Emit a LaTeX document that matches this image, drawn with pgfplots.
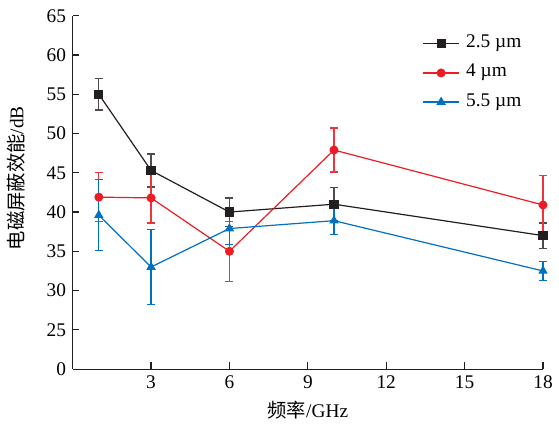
\documentclass[border=0pt]{standalone}
\usepackage{pgfplots}
\pgfplotsset{compat=1.18}
\usepackage{fontspec}
\setmainfont{Liberation Serif}
\newfontfamily\cjk{Noto Sans CJK SC}
\usetikzlibrary{calc}
\definecolor{cblack}{RGB}{35,31,32}
\definecolor{cred}{RGB}{237,28,36}
\definecolor{cblue}{RGB}{0,112,192}
\begin{document}
\fontsize{14.5}{17}\selectfont
\begin{tikzpicture}
\begin{axis}[name=ax, scale only axis, width=352.7pt, height=265pt,
  xmin=0, xmax=18, ymin=20, ymax=65,
  axis lines*=left,
  axis line style={line width=0.9pt, cblack},
  xtick={3,6,...,18},
  ytick={20,25,...,65},
  yticklabels={0,25,30,35,40,45,50,55,60,65},
  tick align=inside, major tick length=5pt,
  tick style={line width=0.9pt, cblack},
  /pgf/number format/assume math mode=true,
  ticklabel style={font=\fontsize{14.5}{17}\selectfont},
  xlabel={{\cjk 频率}/GHz},
  ylabel={{\cjk 电磁屏蔽效能}/dB},
  xlabel style={at={(axis description cs:0.5,-0.116)}, anchor=center, font=\fontsize{14.5}{17}\selectfont},
  ylabel style={at={(axis description cs:-0.1206,0.54)}, anchor=center, font=\fontsize{14.5}{17}\selectfont},
  clip=false,
  legend cell align=left,
  legend style={draw=none, fill=none, at={(rel axis cs:0.735,0.955)}, anchor=north west,
    font=\fontsize{14.5}{17}\selectfont, row sep=7.8pt,
    nodes={inner sep=1pt, text height=9pt, text depth=3pt},
    /tikz/every odd column/.append style={column sep=4pt}},
  legend image code/.code={\draw[mark repeat=2, mark phase=2, #1] plot coordinates {(0pt,0pt) (13.4pt,0pt) (26.8pt,0pt)};},
]
\addplot[cblack, line width=0.9pt, mark=square*, mark size=3pt, mark options={solid, fill=cblack},
  error bars/.cd, y dir=both, y explicit,
  error bar style={line width=0.9pt, cblack!80},
  error mark options={rotate=90, mark size=3pt, line width=0.9pt, cblack!80}]
  coordinates {(1,55) +- (0,2.0) (3,45.3) +- (0,2.1) (6,40.0) +- (0,1.8) (10,41.0) +- (0,2.1) (18,37.0) +- (0,1.6)};
\addlegendentry{2.5 µm}
\addplot[cred, line width=0.9pt, mark=*, mark size=2.9pt, mark options={solid, fill=cred},
  error bars/.cd, y dir=both, y explicit,
  error bar style={line width=0.9pt, cred!90},
  error mark options={rotate=90, mark size=3pt, line width=0.9pt, cred!90}]
  coordinates {(1,41.9) +- (0,3.1) (3,41.8) +- (0,3.2) (6,35.0) +- (0,3.8) (10,47.9) +- (0,2.8) (18,40.9) +- (0,3.8)};
\addlegendentry{4 µm}
\addplot[cblue, line width=0.9pt, mark=triangle*, mark size=3.2pt, mark options={solid, fill=cblue},
  error bars/.cd, y dir=both, y explicit,
  error bar style={line width=0.9pt, cblue},
  error mark options={rotate=90, mark size=3pt, line width=0.9pt, cblue}]
  coordinates {(1,39.6) +- (0,4.5) (3,33.0) +- (0,4.8) (6,37.9) +- (0,2.0) (10,38.9) +- (0,1.8) (18,32.5) +- (0,1.2)};
\addlegendentry{5.5 µm}
\end{axis}
\pgfresetboundingbox
\path[use as bounding box] ($(ax.south west)+(-54.5pt,-42.75pt)$) rectangle ($(ax.north east)+(12pt,11.8pt)$);
\end{tikzpicture}
\end{document}
